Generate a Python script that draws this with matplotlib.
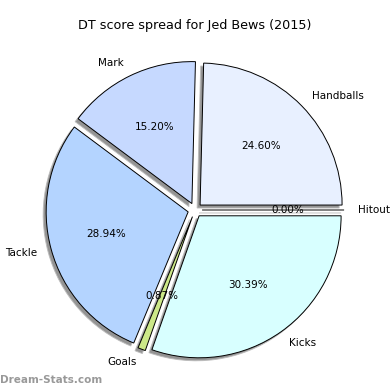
import matplotlib
matplotlib.use("Agg")
import matplotlib.pyplot as plt

# DT score breakdown
labels = ["Handballs", "Mark", "Tackle", "Goals", "Kicks", "Hitout"]
shares = [24.60, 15.20, 28.94, 0.87, 30.39, 0.00]
colours = ["#e8f0ff", "#c6d9ff", "#b4d4ff", "#cce888", "#d8ffff", "#eeeeee"]

fig = plt.figure(figsize=(3.9, 3.9), dpi=100)
ax = fig.add_axes([0, 0, 1, 360 / 390])

ax.pie(shares, labels=labels, colors=colours, autopct="%1.2f%%",
       explode=[0.05] * len(shares),
       shadow={"ox": -0.015, "oy": -0.015, "facecolor": "#888888",
               "edgecolor": "#bbbbbb", "alpha": 0.9},
       startangle=0,
       wedgeprops={"edgecolor": "black", "linewidth": 0.7},
       textprops={"fontsize": 7.5})
ax.set_aspect("equal")
ax.set_xlim(-195 / 142, 195 / 142)
ax.set_ylim(-180 / 142, 180 / 142)
ax.axis("off")

fig.text(0.5, 1 - 25 / 390, "DT score spread for Jed Bews (2015)",
         ha="center", va="center", fontsize=9.2)
fig.text(0.0, 1 - 380 / 390, "Dream-Stats.com", ha="left", va="center",
         fontsize=7.5, color="#999999", fontweight="bold")

fig.savefig("out.png", dpi=100)
